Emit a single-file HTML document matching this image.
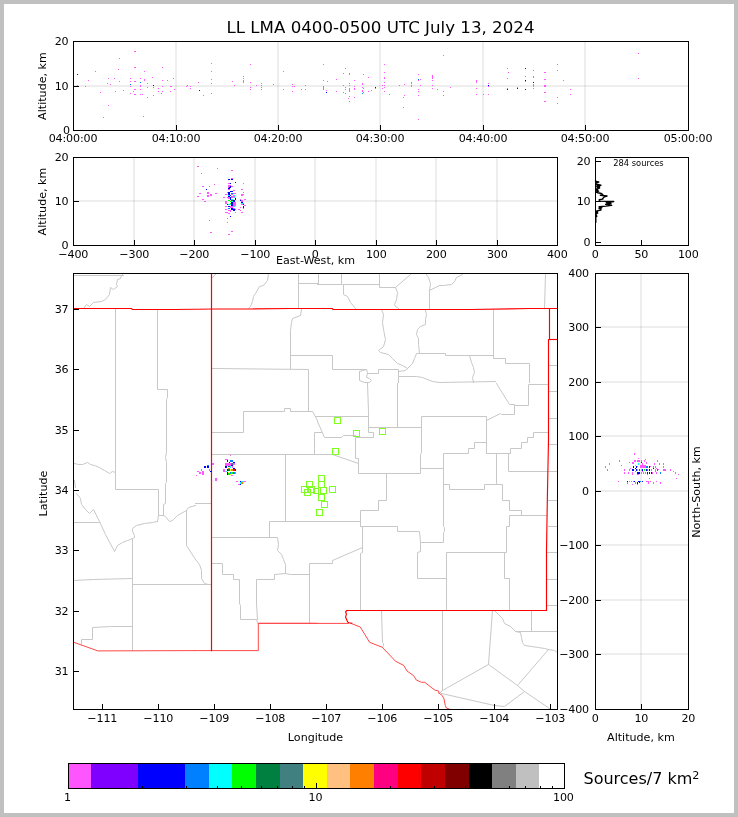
<!DOCTYPE html>
<html lang="en">
<head>
<meta charset="utf-8">
<title>LL LMA 0400-0500 UTC July 13, 2024</title>
<style>
html,body{margin:0;padding:0;background:#c0c0c0;}
svg{display:block;font-family:'DejaVu Sans','Liberation Sans',sans-serif;fill:#000;}
svg rect{shape-rendering:crispEdges;}
</style>
</head>
<body>
<svg width="738" height="817" viewBox="0 0 738 817">
<rect x="0" y="0" width="738" height="817" fill="#c0c0c0"/>
<rect x="4" y="4" width="730" height="809" fill="#fff"/>
<rect x="175" y="42" width="2" height="88" fill="#000" fill-opacity="0.065"/>
<rect x="277" y="42" width="2" height="88" fill="#000" fill-opacity="0.065"/>
<rect x="379" y="42" width="2" height="88" fill="#000" fill-opacity="0.065"/>
<rect x="482" y="42" width="2" height="88" fill="#000" fill-opacity="0.065"/>
<rect x="584" y="42" width="2" height="88" fill="#000" fill-opacity="0.065"/>
<rect x="74" y="85" width="614" height="2" fill="#000" fill-opacity="0.065"/>
<rect x="77" y="85" width="1" height="1" fill="#ff55ff"/>
<rect x="85" y="86" width="1" height="1" fill="#ff55ff"/>
<rect x="88" y="80" width="1" height="1" fill="#ff55ff"/>
<rect x="95" y="71" width="1" height="1" fill="#ff55ff"/>
<rect x="100" y="92" width="1" height="1" fill="#ff55ff"/>
<rect x="103" y="117" width="1" height="1" fill="#ff55ff"/>
<rect x="107" y="83" width="1" height="1" fill="#ff55ff"/>
<rect x="108" y="78" width="1" height="1" fill="#ff55ff"/>
<rect x="108" y="105" width="1" height="1" fill="#ff55ff"/>
<rect x="110" y="84" width="1" height="1" fill="#ff55ff"/>
<rect x="114" y="78" width="1" height="1" fill="#ff55ff"/>
<rect x="115" y="91" width="1" height="1" fill="#ff55ff"/>
<rect x="118" y="69" width="1" height="1" fill="#ff55ff"/>
<rect x="119" y="58" width="1" height="1" fill="#ff55ff"/>
<rect x="119" y="81" width="1" height="1" fill="#ff55ff"/>
<rect x="123" y="90" width="1" height="1" fill="#ff55ff"/>
<rect x="130" y="78" width="1" height="1" fill="#ff55ff"/>
<rect x="130" y="81" width="1" height="1" fill="#ff55ff"/>
<rect x="130" y="86" width="1" height="1" fill="#ff55ff"/>
<rect x="130" y="93" width="1" height="1" fill="#ff55ff"/>
<rect x="133" y="91" width="1" height="1" fill="#ff55ff"/>
<rect x="134" y="51" width="2" height="1" fill="#ff55ff"/>
<rect x="134" y="67" width="2" height="1" fill="#ff55ff"/>
<rect x="134" y="81" width="2" height="1" fill="#ff55ff"/>
<rect x="134" y="89" width="2" height="1" fill="#ff55ff"/>
<rect x="134" y="94" width="2" height="1" fill="#ff55ff"/>
<rect x="140" y="78" width="1" height="1" fill="#ff55ff"/>
<rect x="140" y="85" width="1" height="1" fill="#ff55ff"/>
<rect x="140" y="86" width="1" height="1" fill="#ff55ff"/>
<rect x="140" y="89" width="1" height="1" fill="#ff55ff"/>
<rect x="140" y="94" width="1" height="1" fill="#ff55ff"/>
<rect x="142" y="94" width="1" height="1" fill="#ff55ff"/>
<rect x="143" y="116" width="1" height="1" fill="#ff55ff"/>
<rect x="144" y="71" width="1" height="1" fill="#ff55ff"/>
<rect x="144" y="79" width="1" height="1" fill="#ff55ff"/>
<rect x="144" y="80" width="1" height="1" fill="#ff55ff"/>
<rect x="147" y="83" width="1" height="1" fill="#ff55ff"/>
<rect x="147" y="87" width="1" height="1" fill="#ff55ff"/>
<rect x="147" y="97" width="1" height="1" fill="#ff55ff"/>
<rect x="152" y="77" width="1" height="1" fill="#ff55ff"/>
<rect x="153" y="87" width="1" height="1" fill="#ff55ff"/>
<rect x="153" y="95" width="1" height="1" fill="#ff55ff"/>
<rect x="158" y="88" width="1" height="1" fill="#ff55ff"/>
<rect x="158" y="91" width="1" height="1" fill="#ff55ff"/>
<rect x="161" y="93" width="1" height="1" fill="#ff55ff"/>
<rect x="162" y="67" width="1" height="1" fill="#ff55ff"/>
<rect x="162" y="80" width="1" height="1" fill="#ff55ff"/>
<rect x="162" y="86" width="1" height="1" fill="#ff55ff"/>
<rect x="162" y="91" width="1" height="1" fill="#ff55ff"/>
<rect x="167" y="80" width="1" height="1" fill="#ff55ff"/>
<rect x="170" y="86" width="2" height="1" fill="#ff55ff"/>
<rect x="170" y="91" width="1" height="1" fill="#ff55ff"/>
<rect x="77" y="74" width="1" height="1" fill="#0000ff"/>
<rect x="153" y="85" width="1" height="1" fill="#0000ff"/>
<rect x="130" y="84" width="1" height="1" fill="#0080ff"/>
<rect x="140" y="82" width="1" height="1" fill="#0080ff"/>
<rect x="173" y="78" width="1" height="1" fill="#ff55ff"/>
<rect x="174" y="89" width="1" height="1" fill="#ff55ff"/>
<rect x="186" y="86" width="1" height="1" fill="#ff55ff"/>
<rect x="187" y="85" width="1" height="1" fill="#ff55ff"/>
<rect x="190" y="86" width="1" height="1" fill="#ff55ff"/>
<rect x="190" y="88" width="1" height="1" fill="#ff55ff"/>
<rect x="198" y="82" width="1" height="1" fill="#ff55ff"/>
<rect x="203" y="95" width="1" height="1" fill="#ff55ff"/>
<rect x="211" y="63" width="1" height="1" fill="#ff55ff"/>
<rect x="211" y="71" width="1" height="1" fill="#ff55ff"/>
<rect x="211" y="79" width="1" height="1" fill="#ff55ff"/>
<rect x="211" y="83" width="1" height="1" fill="#ff55ff"/>
<rect x="211" y="93" width="1" height="1" fill="#ff55ff"/>
<rect x="232" y="81" width="1" height="1" fill="#ff55ff"/>
<rect x="234" y="85" width="1" height="1" fill="#ff55ff"/>
<rect x="243" y="76" width="1" height="1" fill="#ff55ff"/>
<rect x="243" y="78" width="1" height="1" fill="#ff55ff"/>
<rect x="243" y="80" width="1" height="1" fill="#ff55ff"/>
<rect x="243" y="81" width="1" height="1" fill="#ff55ff"/>
<rect x="243" y="82" width="1" height="1" fill="#ff55ff"/>
<rect x="250" y="64" width="1" height="1" fill="#ff55ff"/>
<rect x="250" y="82" width="1" height="1" fill="#ff55ff"/>
<rect x="250" y="87" width="1" height="1" fill="#ff55ff"/>
<rect x="250" y="89" width="1" height="1" fill="#ff55ff"/>
<rect x="256" y="85" width="1" height="1" fill="#ff55ff"/>
<rect x="261" y="83" width="1" height="1" fill="#ff55ff"/>
<rect x="261" y="85" width="1" height="1" fill="#ff55ff"/>
<rect x="261" y="87" width="1" height="1" fill="#ff55ff"/>
<rect x="261" y="89" width="1" height="1" fill="#ff55ff"/>
<rect x="199" y="90" width="1" height="1" fill="#0000ff"/>
<rect x="273" y="84" width="1" height="1" fill="#ff55ff"/>
<rect x="283" y="71" width="1" height="1" fill="#ff55ff"/>
<rect x="283" y="89" width="1" height="1" fill="#ff55ff"/>
<rect x="292" y="84" width="1" height="1" fill="#ff55ff"/>
<rect x="292" y="86" width="1" height="1" fill="#ff55ff"/>
<rect x="294" y="86" width="1" height="1" fill="#ff55ff"/>
<rect x="292" y="91" width="1" height="1" fill="#ff55ff"/>
<rect x="301" y="89" width="1" height="1" fill="#ff55ff"/>
<rect x="305" y="85" width="1" height="1" fill="#ff55ff"/>
<rect x="305" y="89" width="1" height="1" fill="#ff55ff"/>
<rect x="323" y="64" width="1" height="1" fill="#ff55ff"/>
<rect x="323" y="80" width="1" height="1" fill="#ff55ff"/>
<rect x="327" y="81" width="1" height="1" fill="#ff55ff"/>
<rect x="323" y="86" width="1" height="4" fill="#ff55ff"/>
<rect x="326" y="90" width="1" height="1" fill="#ff55ff"/>
<rect x="336" y="79" width="1" height="1" fill="#ff55ff"/>
<rect x="336" y="91" width="1" height="1" fill="#ff55ff"/>
<rect x="343" y="73" width="1" height="1" fill="#ff55ff"/>
<rect x="343" y="85" width="1" height="1" fill="#ff55ff"/>
<rect x="343" y="92" width="1" height="1" fill="#ff55ff"/>
<rect x="345" y="68" width="1" height="1" fill="#ff55ff"/>
<rect x="345" y="87" width="1" height="1" fill="#ff55ff"/>
<rect x="345" y="89" width="1" height="1" fill="#ff55ff"/>
<rect x="345" y="93" width="1" height="1" fill="#ff55ff"/>
<rect x="349" y="73" width="1" height="2" fill="#ff55ff"/>
<rect x="349" y="83" width="1" height="1" fill="#ff55ff"/>
<rect x="349" y="85" width="1" height="1" fill="#ff55ff"/>
<rect x="349" y="88" width="1" height="4" fill="#ff55ff"/>
<rect x="349" y="96" width="1" height="1" fill="#ff55ff"/>
<rect x="348" y="98" width="1" height="1" fill="#ff55ff"/>
<rect x="349" y="101" width="1" height="1" fill="#ff55ff"/>
<rect x="354" y="80" width="1" height="1" fill="#ff55ff"/>
<rect x="354" y="86" width="1" height="1" fill="#ff55ff"/>
<rect x="354" y="88" width="1" height="2" fill="#ff55ff"/>
<rect x="354" y="97" width="1" height="1" fill="#ff55ff"/>
<rect x="362" y="83" width="1" height="2" fill="#ff55ff"/>
<rect x="362" y="87" width="1" height="1" fill="#ff55ff"/>
<rect x="363" y="88" width="1" height="1" fill="#ff55ff"/>
<rect x="362" y="90" width="1" height="2" fill="#ff55ff"/>
<rect x="363" y="92" width="1" height="1" fill="#ff55ff"/>
<rect x="363" y="74" width="1" height="1" fill="#ff55ff"/>
<rect x="368" y="77" width="1" height="1" fill="#ff55ff"/>
<rect x="368" y="91" width="1" height="1" fill="#ff55ff"/>
<rect x="371" y="90" width="1" height="1" fill="#ff55ff"/>
<rect x="326" y="92" width="1" height="1" fill="#0000ff"/>
<rect x="362" y="93" width="1" height="1" fill="#0080ff"/>
<rect x="375" y="88" width="1" height="1" fill="#ff55ff"/>
<rect x="382" y="85" width="1" height="1" fill="#ff55ff"/>
<rect x="382" y="88" width="1" height="1" fill="#ff55ff"/>
<rect x="384" y="64" width="1" height="1" fill="#ff55ff"/>
<rect x="384" y="72" width="1" height="1" fill="#ff55ff"/>
<rect x="384" y="77" width="1" height="2" fill="#ff55ff"/>
<rect x="384" y="82" width="1" height="1" fill="#ff55ff"/>
<rect x="384" y="85" width="1" height="1" fill="#ff55ff"/>
<rect x="384" y="87" width="1" height="1" fill="#ff55ff"/>
<rect x="384" y="91" width="1" height="1" fill="#ff55ff"/>
<rect x="389" y="94" width="1" height="1" fill="#ff55ff"/>
<rect x="399" y="85" width="1" height="1" fill="#ff55ff"/>
<rect x="404" y="84" width="1" height="1" fill="#ff55ff"/>
<rect x="404" y="95" width="1" height="1" fill="#ff55ff"/>
<rect x="403" y="97" width="1" height="1" fill="#ff55ff"/>
<rect x="403" y="107" width="1" height="1" fill="#ff55ff"/>
<rect x="411" y="82" width="1" height="2" fill="#ff55ff"/>
<rect x="411" y="85" width="1" height="2" fill="#ff55ff"/>
<rect x="418" y="74" width="1" height="1" fill="#ff55ff"/>
<rect x="418" y="80" width="1" height="1" fill="#ff55ff"/>
<rect x="420" y="79" width="1" height="1" fill="#ff55ff"/>
<rect x="420" y="85" width="1" height="1" fill="#ff55ff"/>
<rect x="418" y="89" width="1" height="1" fill="#ff55ff"/>
<rect x="418" y="91" width="1" height="1" fill="#ff55ff"/>
<rect x="418" y="95" width="1" height="1" fill="#ff55ff"/>
<rect x="418" y="119" width="1" height="1" fill="#ff55ff"/>
<rect x="432" y="75" width="1" height="4" fill="#ff55ff"/>
<rect x="432" y="80" width="1" height="1" fill="#ff55ff"/>
<rect x="432" y="85" width="1" height="1" fill="#ff55ff"/>
<rect x="432" y="88" width="1" height="1" fill="#ff55ff"/>
<rect x="437" y="89" width="1" height="1" fill="#ff55ff"/>
<rect x="443" y="55" width="1" height="1" fill="#ff55ff"/>
<rect x="443" y="91" width="1" height="1" fill="#ff55ff"/>
<rect x="443" y="95" width="1" height="1" fill="#ff55ff"/>
<rect x="450" y="87" width="1" height="1" fill="#ff55ff"/>
<rect x="375" y="87" width="1" height="1" fill="#0000ff"/>
<rect x="418" y="79" width="1" height="1" fill="#0080ff"/>
<rect x="476" y="80" width="1" height="3" fill="#ff55ff"/>
<rect x="476" y="88" width="1" height="1" fill="#ff55ff"/>
<rect x="476" y="94" width="1" height="1" fill="#ff55ff"/>
<rect x="483" y="94" width="1" height="1" fill="#ff55ff"/>
<rect x="488" y="83" width="1" height="1" fill="#ff55ff"/>
<rect x="488" y="86" width="1" height="1" fill="#ff55ff"/>
<rect x="488" y="94" width="1" height="1" fill="#ff55ff"/>
<rect x="507" y="68" width="1" height="1" fill="#ff55ff"/>
<rect x="508" y="72" width="1" height="1" fill="#ff55ff"/>
<rect x="507" y="78" width="1" height="1" fill="#ff55ff"/>
<rect x="507" y="88" width="1" height="1" fill="#ff55ff"/>
<rect x="517" y="87" width="1" height="1" fill="#ff55ff"/>
<rect x="525" y="76" width="1" height="1" fill="#ff55ff"/>
<rect x="525" y="81" width="1" height="1" fill="#ff55ff"/>
<rect x="533" y="70" width="1" height="1" fill="#ff55ff"/>
<rect x="533" y="76" width="1" height="2" fill="#ff55ff"/>
<rect x="533" y="84" width="1" height="3" fill="#ff55ff"/>
<rect x="533" y="88" width="1" height="1" fill="#ff55ff"/>
<rect x="544" y="72" width="2" height="1" fill="#ff55ff"/>
<rect x="544" y="79" width="2" height="1" fill="#ff55ff"/>
<rect x="544" y="85" width="2" height="2" fill="#ff55ff"/>
<rect x="544" y="92" width="2" height="1" fill="#ff55ff"/>
<rect x="544" y="101" width="2" height="1" fill="#ff55ff"/>
<rect x="557" y="64" width="1" height="1" fill="#ff55ff"/>
<rect x="557" y="70" width="1" height="1" fill="#ff55ff"/>
<rect x="557" y="97" width="1" height="1" fill="#ff55ff"/>
<rect x="557" y="103" width="1" height="1" fill="#ff55ff"/>
<rect x="563" y="80" width="1" height="1" fill="#ff55ff"/>
<rect x="570" y="89" width="1" height="1" fill="#ff55ff"/>
<rect x="570" y="94" width="1" height="1" fill="#ff55ff"/>
<rect x="488" y="85" width="1" height="1" fill="#0000ff"/>
<rect x="507" y="89" width="1" height="1" fill="#0000ff"/>
<rect x="517" y="88" width="1" height="1" fill="#0000ff"/>
<rect x="525" y="68" width="1" height="1" fill="#0000ff"/>
<rect x="525" y="80" width="1" height="1" fill="#0000ff"/>
<rect x="525" y="89" width="1" height="1" fill="#0000ff"/>
<rect x="533" y="82" width="1" height="1" fill="#0000ff"/>
<rect x="638" y="53" width="1" height="1" fill="#ff55ff"/>
<rect x="638" y="78" width="1" height="1" fill="#ff55ff"/>
<rect x="73" y="41" width="616" height="1" fill="#000"/>
<rect x="73" y="130" width="616" height="1" fill="#000"/>
<rect x="73" y="41" width="1" height="90" fill="#000"/>
<rect x="688" y="41" width="1" height="90" fill="#000"/>
<rect x="176" y="125" width="1" height="5" fill="#000"/>
<rect x="278" y="125" width="1" height="5" fill="#000"/>
<rect x="380" y="125" width="1" height="5" fill="#000"/>
<rect x="483" y="125" width="1" height="5" fill="#000"/>
<rect x="585" y="125" width="1" height="5" fill="#000"/>
<rect x="74" y="86" width="5" height="1" fill="#000"/>
<rect x="133" y="158" width="2" height="87" fill="#000" fill-opacity="0.065"/>
<rect x="193" y="158" width="2" height="87" fill="#000" fill-opacity="0.065"/>
<rect x="254" y="158" width="2" height="87" fill="#000" fill-opacity="0.065"/>
<rect x="314" y="158" width="2" height="87" fill="#000" fill-opacity="0.065"/>
<rect x="375" y="158" width="2" height="87" fill="#000" fill-opacity="0.065"/>
<rect x="435" y="158" width="2" height="87" fill="#000" fill-opacity="0.065"/>
<rect x="496" y="158" width="2" height="87" fill="#000" fill-opacity="0.065"/>
<rect x="74" y="200" width="483" height="2" fill="#000" fill-opacity="0.065"/>
<rect x="231" y="178" width="2" height="1" fill="#ff55ff"/>
<rect x="228" y="179" width="2" height="1" fill="#0000ff"/>
<rect x="231" y="179" width="2" height="1" fill="#0000ff"/>
<rect x="235" y="182" width="1" height="1" fill="#0000ff"/>
<rect x="228" y="183" width="2" height="1" fill="#ff55ff"/>
<rect x="230" y="183" width="1" height="1" fill="#0000ff"/>
<rect x="243" y="183" width="1" height="1" fill="#ff55ff"/>
<rect x="228" y="185" width="3" height="1" fill="#ff55ff"/>
<rect x="228" y="186" width="2" height="1" fill="#ff55ff"/>
<rect x="230" y="186" width="1" height="1" fill="#0000ff"/>
<rect x="231" y="186" width="2" height="1" fill="#ff55ff"/>
<rect x="228" y="187" width="1" height="1" fill="#ff55ff"/>
<rect x="229" y="187" width="2" height="1" fill="#0000ff"/>
<rect x="228" y="188" width="2" height="1" fill="#0000ff"/>
<rect x="228" y="189" width="2" height="1" fill="#ff55ff"/>
<rect x="241" y="189" width="2" height="1" fill="#ff55ff"/>
<rect x="233" y="190" width="2" height="1" fill="#ff55ff"/>
<rect x="230" y="191" width="3" height="1" fill="#0000ff"/>
<rect x="227" y="192" width="1" height="1" fill="#ff55ff"/>
<rect x="228" y="192" width="2" height="1" fill="#0000ff"/>
<rect x="243" y="192" width="1" height="1" fill="#ff55ff"/>
<rect x="228" y="193" width="2" height="1" fill="#0000ff"/>
<rect x="231" y="193" width="2" height="1" fill="#0080ff"/>
<rect x="233" y="193" width="3" height="1" fill="#ff55ff"/>
<rect x="225" y="194" width="2" height="1" fill="#ff55ff"/>
<rect x="228" y="194" width="2" height="1" fill="#0000ff"/>
<rect x="231" y="194" width="2" height="1" fill="#ff55ff"/>
<rect x="241" y="194" width="3" height="1" fill="#ff55ff"/>
<rect x="228" y="195" width="2" height="1" fill="#00ffff"/>
<rect x="230" y="195" width="1" height="1" fill="#0000ff"/>
<rect x="233" y="195" width="2" height="1" fill="#00ffff"/>
<rect x="241" y="195" width="2" height="1" fill="#ff55ff"/>
<rect x="228" y="196" width="2" height="1" fill="#0000ff"/>
<rect x="231" y="196" width="4" height="1" fill="#ff55ff"/>
<rect x="223" y="197" width="2" height="1" fill="#ff55ff"/>
<rect x="227" y="197" width="3" height="1" fill="#ff55ff"/>
<rect x="230" y="197" width="1" height="1" fill="#0000ff"/>
<rect x="231" y="197" width="2" height="1" fill="#ff55ff"/>
<rect x="233" y="197" width="2" height="1" fill="#00ffff"/>
<rect x="228" y="198" width="2" height="1" fill="#ff55ff"/>
<rect x="230" y="198" width="1" height="1" fill="#0000ff"/>
<rect x="235" y="198" width="1" height="1" fill="#0000ff"/>
<rect x="230" y="199" width="1" height="1" fill="#0000ff"/>
<rect x="231" y="199" width="2" height="1" fill="#00ffff"/>
<rect x="235" y="199" width="1" height="1" fill="#0000ff"/>
<rect x="240" y="199" width="1" height="1" fill="#ff55ff"/>
<rect x="244" y="199" width="2" height="1" fill="#ff55ff"/>
<rect x="228" y="200" width="2" height="1" fill="#00ff00"/>
<rect x="231" y="200" width="2" height="1" fill="#008040"/>
<rect x="233" y="200" width="2" height="1" fill="#0000ff"/>
<rect x="240" y="200" width="1" height="1" fill="#0000ff"/>
<rect x="241" y="200" width="2" height="1" fill="#ff55ff"/>
<rect x="225" y="201" width="2" height="1" fill="#ff55ff"/>
<rect x="230" y="201" width="1" height="1" fill="#00ff00"/>
<rect x="231" y="201" width="2" height="1" fill="#00ffff"/>
<rect x="233" y="201" width="2" height="1" fill="#0000ff"/>
<rect x="241" y="201" width="2" height="1" fill="#ff55ff"/>
<rect x="225" y="202" width="2" height="1" fill="#ff55ff"/>
<rect x="231" y="202" width="2" height="1" fill="#0000ff"/>
<rect x="233" y="202" width="3" height="1" fill="#ff55ff"/>
<rect x="241" y="202" width="2" height="1" fill="#0000ff"/>
<rect x="225" y="203" width="2" height="1" fill="#ff55ff"/>
<rect x="230" y="203" width="1" height="1" fill="#00ff00"/>
<rect x="231" y="203" width="2" height="1" fill="#0000ff"/>
<rect x="233" y="203" width="3" height="1" fill="#ff55ff"/>
<rect x="241" y="203" width="2" height="1" fill="#00ffff"/>
<rect x="243" y="203" width="1" height="1" fill="#ff55ff"/>
<rect x="227" y="204" width="1" height="1" fill="#0000ff"/>
<rect x="228" y="204" width="3" height="1" fill="#00ffff"/>
<rect x="231" y="204" width="2" height="1" fill="#0000ff"/>
<rect x="233" y="204" width="3" height="1" fill="#ff55ff"/>
<rect x="241" y="204" width="2" height="1" fill="#ff55ff"/>
<rect x="243" y="204" width="1" height="1" fill="#0000ff"/>
<rect x="231" y="205" width="2" height="1" fill="#0000ff"/>
<rect x="233" y="205" width="3" height="1" fill="#ff55ff"/>
<rect x="244" y="205" width="2" height="1" fill="#ff55ff"/>
<rect x="225" y="206" width="2" height="1" fill="#ff55ff"/>
<rect x="228" y="206" width="2" height="1" fill="#0000ff"/>
<rect x="230" y="206" width="3" height="1" fill="#ff55ff"/>
<rect x="233" y="206" width="2" height="1" fill="#00ffff"/>
<rect x="243" y="206" width="1" height="1" fill="#0000ff"/>
<rect x="230" y="207" width="3" height="1" fill="#ff55ff"/>
<rect x="240" y="207" width="1" height="1" fill="#ff55ff"/>
<rect x="243" y="207" width="1" height="1" fill="#0000ff"/>
<rect x="228" y="208" width="2" height="1" fill="#0080ff"/>
<rect x="231" y="208" width="2" height="1" fill="#0000ff"/>
<rect x="233" y="208" width="2" height="1" fill="#ff55ff"/>
<rect x="243" y="208" width="1" height="1" fill="#ff55ff"/>
<rect x="225" y="209" width="2" height="1" fill="#ff55ff"/>
<rect x="231" y="209" width="4" height="1" fill="#0000ff"/>
<rect x="235" y="209" width="1" height="1" fill="#ff55ff"/>
<rect x="238" y="209" width="2" height="1" fill="#ff55ff"/>
<rect x="228" y="210" width="3" height="1" fill="#ff55ff"/>
<rect x="233" y="210" width="2" height="1" fill="#0000ff"/>
<rect x="240" y="210" width="1" height="1" fill="#ff55ff"/>
<rect x="230" y="211" width="1" height="1" fill="#ff55ff"/>
<rect x="225" y="212" width="3" height="1" fill="#ff55ff"/>
<rect x="235" y="212" width="1" height="1" fill="#ff55ff"/>
<rect x="241" y="212" width="2" height="1" fill="#ff55ff"/>
<rect x="228" y="213" width="2" height="1" fill="#ff55ff"/>
<rect x="230" y="216" width="1" height="1" fill="#0000ff"/>
<rect x="227" y="218" width="1" height="1" fill="#ff55ff"/>
<rect x="197" y="166" width="2" height="1" fill="#ff55ff"/>
<rect x="201" y="173" width="1" height="1" fill="#ff55ff"/>
<rect x="217" y="168" width="1" height="1" fill="#ff55ff"/>
<rect x="231" y="170" width="2" height="1" fill="#ff55ff"/>
<rect x="214" y="184" width="1" height="1" fill="#ff55ff"/>
<rect x="209" y="220" width="1" height="1" fill="#ff55ff"/>
<rect x="227" y="222" width="1" height="1" fill="#ff55ff"/>
<rect x="231" y="231" width="2" height="1" fill="#ff55ff"/>
<rect x="210" y="232" width="2" height="1" fill="#ff55ff"/>
<rect x="228" y="234" width="2" height="1" fill="#ff55ff"/>
<rect x="202" y="186" width="2" height="1" fill="#ff55ff"/>
<rect x="209" y="186" width="1" height="1" fill="#ff55ff"/>
<rect x="206" y="189" width="1" height="1" fill="#0000ff"/>
<rect x="199" y="193" width="2" height="1" fill="#ff55ff"/>
<rect x="207" y="192" width="2" height="2" fill="#ff55ff"/>
<rect x="207" y="195" width="2" height="2" fill="#ff55ff"/>
<rect x="210" y="194" width="2" height="2" fill="#ff55ff"/>
<rect x="215" y="193" width="2" height="1" fill="#ff55ff"/>
<rect x="197" y="196" width="2" height="1" fill="#ff55ff"/>
<rect x="202" y="199" width="2" height="1" fill="#ff55ff"/>
<rect x="204" y="201" width="2" height="1" fill="#ff55ff"/>
<rect x="73" y="157" width="485" height="1" fill="#000"/>
<rect x="73" y="245" width="485" height="1" fill="#000"/>
<rect x="73" y="157" width="1" height="89" fill="#000"/>
<rect x="557" y="157" width="1" height="89" fill="#000"/>
<rect x="134" y="240" width="1" height="5" fill="#000"/>
<rect x="194" y="240" width="1" height="5" fill="#000"/>
<rect x="255" y="240" width="1" height="5" fill="#000"/>
<rect x="315" y="240" width="1" height="5" fill="#000"/>
<rect x="376" y="240" width="1" height="5" fill="#000"/>
<rect x="436" y="240" width="1" height="5" fill="#000"/>
<rect x="497" y="240" width="1" height="5" fill="#000"/>
<rect x="74" y="201" width="5" height="1" fill="#000"/>
<polyline points="595.58,180.11 595.58,181.35 598.75,182.05 595.76,182.93 595.76,183.99 600.87,185.22 596.11,186.1 599.63,186.8 597.17,187.44 599.63,188.14 596.11,188.92 597.87,189.8 596.11,190.5 598.58,191.2 596.11,192.08 597.87,192.79 601.39,193.49 602.8,194.55 600.34,195.25 607.03,195.96 604.21,196.84 602.63,198.77 602.8,199.13 599.28,199.76 599.28,201.17 613.72,201.45 606.32,202.58 610.9,203.28 605.62,204.34 611.61,205.29 605.97,206.1 599.11,206.73 601.75,207.68 598.93,208.21 601.04,208.74 600.87,209.97 596.11,211.1 597.52,211.91 595.94,212.44 597.7,213.14 595.76,213.85 596.82,216.31 595.76,216.84 595.83,222.65" fill="none" stroke="#000" stroke-width="1.4" stroke-linejoin="round"/>
<rect x="595" y="157" width="94" height="1" fill="#000"/>
<rect x="595" y="245" width="94" height="1" fill="#000"/>
<rect x="595" y="157" width="1" height="89" fill="#000"/>
<rect x="688" y="157" width="1" height="89" fill="#000"/>
<rect x="596" y="242" width="5" height="1" fill="#000"/>
<rect x="596" y="201" width="5" height="1" fill="#000"/>
<rect x="596" y="161" width="5" height="1" fill="#000"/>
<rect x="641" y="240" width="1" height="5" fill="#000"/>
<clipPath id="c4"><rect x="74" y="274" width="483" height="435"/></clipPath>
<g clip-path="url(#c4)">
<polyline points="73.5,275.5 123.5,275.5" fill="none" stroke="#c8c8c8" stroke-width="1" stroke-linejoin="round" stroke-linecap="square"/>
<polyline points="123.5,273.5 121.5,275.5 120.5,278.5 117.5,279.5 116.5,284.5 117.5,286.5 113.5,289.5 110.5,287.5 109.5,294.5 105.5,299.5 101.5,301.5 93.5,302.5 89.5,306.5 86.5,304.5 83.5,308.5" fill="none" stroke="#c8c8c8" stroke-width="1" stroke-linejoin="round" stroke-linecap="square"/>
<polyline points="115.5,309.5 115.5,382.5" fill="none" stroke="#c8c8c8" stroke-width="1" stroke-linejoin="round" stroke-linecap="square"/>
<polyline points="157.5,309.5 157.5,382.5" fill="none" stroke="#c8c8c8" stroke-width="1" stroke-linejoin="round" stroke-linecap="square"/>
<polyline points="216.5,273.5 212.5,277.5" fill="none" stroke="#c8c8c8" stroke-width="1" stroke-linejoin="round" stroke-linecap="square"/>
<polyline points="268.5,273.5 267.5,280.5 263.5,285.5 259.5,286.5 255.5,293.5 253.5,296.5 252.5,301.5 250.5,306.5 248.5,308.5" fill="none" stroke="#c8c8c8" stroke-width="1" stroke-linejoin="round" stroke-linecap="square"/>
<polyline points="298.5,273.5 298.5,308.5" fill="none" stroke="#c8c8c8" stroke-width="1" stroke-linejoin="round" stroke-linecap="square"/>
<polyline points="298.5,283.5 317.5,283.5" fill="none" stroke="#c8c8c8" stroke-width="1" stroke-linejoin="round" stroke-linecap="square"/>
<polyline points="301.5,309.5 300.5,315.5 292.5,318.5 291.5,322.5 290.5,330.5 290.5,368.5" fill="none" stroke="#c8c8c8" stroke-width="1" stroke-linejoin="round" stroke-linecap="square"/>
<polyline points="290.5,355.5 317.5,355.5" fill="none" stroke="#c8c8c8" stroke-width="1" stroke-linejoin="round" stroke-linecap="square"/>
<polyline points="212.5,368.5 308.5,369.5 308.5,382.5" fill="none" stroke="#c8c8c8" stroke-width="1" stroke-linejoin="round" stroke-linecap="square"/>
<polyline points="318.5,273.5 318.5,284.5" fill="none" stroke="#c8c8c8" stroke-width="1" stroke-linejoin="round" stroke-linecap="square"/>
<polyline points="317.5,284.5 342.5,284.5 378.5,284.5" fill="none" stroke="#c8c8c8" stroke-width="1" stroke-linejoin="round" stroke-linecap="square"/>
<polyline points="341.5,273.5 341.5,284.5" fill="none" stroke="#c8c8c8" stroke-width="1" stroke-linejoin="round" stroke-linecap="square"/>
<polyline points="379.5,273.5 379.5,287.5 395.5,287.5" fill="none" stroke="#c8c8c8" stroke-width="1" stroke-linejoin="round" stroke-linecap="square"/>
<polyline points="410.5,274.5 395.5,287.5" fill="none" stroke="#c8c8c8" stroke-width="1" stroke-linejoin="round" stroke-linecap="square"/>
<polyline points="343.5,284.5 343.5,294.5 347.5,296.5 350.5,302.5 355.5,308.5" fill="none" stroke="#c8c8c8" stroke-width="1" stroke-linejoin="round" stroke-linecap="square"/>
<polyline points="395.5,287.5 397.5,292.5 396.5,299.5 394.5,304.5 395.5,306.5 398.5,308.5" fill="none" stroke="#c8c8c8" stroke-width="1" stroke-linejoin="round" stroke-linecap="square"/>
<polyline points="426.5,274.5 428.5,277.5 430.5,283.5 429.5,290.5 429.5,308.5" fill="none" stroke="#c8c8c8" stroke-width="1" stroke-linejoin="round" stroke-linecap="square"/>
<polyline points="429.5,290.5 439.5,285.5" fill="none" stroke="#c8c8c8" stroke-width="1" stroke-linejoin="round" stroke-linecap="square"/>
<polyline points="381.5,309.5 383.5,314.5 382.5,322.5 383.5,329.5 385.5,339.5 383.5,346.5 378.5,350.5 380.5,352.5 388.5,354.5 392.5,358.5 397.5,363.5 402.5,365.5 407.5,368.5 405.5,370.5 398.5,371.5" fill="none" stroke="#c8c8c8" stroke-width="1" stroke-linejoin="round" stroke-linecap="square"/>
<polyline points="425.5,310.5 426.5,314.5 425.5,319.5 425.5,324.5 420.5,326.5 417.5,329.5 416.5,334.5 418.5,338.5 418.5,344.5 419.5,353.5" fill="none" stroke="#c8c8c8" stroke-width="1" stroke-linejoin="round" stroke-linecap="square"/>
<polyline points="439.5,353.5 416.5,353.5 414.5,358.5 412.5,363.5 407.5,368.5" fill="none" stroke="#c8c8c8" stroke-width="1" stroke-linejoin="round" stroke-linecap="square"/>
<polyline points="317.5,355.5 332.5,355.5 332.5,369.5 366.5,369.5" fill="none" stroke="#c8c8c8" stroke-width="1" stroke-linejoin="round" stroke-linecap="square"/>
<polyline points="359.5,371.5 366.5,369.5 367.5,372.5 366.5,377.5 369.5,378.5 371.5,380.5 369.5,382.5" fill="none" stroke="#c8c8c8" stroke-width="1" stroke-linejoin="round" stroke-linecap="square"/>
<polyline points="359.5,371.5 359.5,380.5 364.5,382.5 368.5,382.5" fill="none" stroke="#c8c8c8" stroke-width="1" stroke-linejoin="round" stroke-linecap="square"/>
<polyline points="367.5,373.5 378.5,373.5 378.5,369.5 398.5,369.5 398.5,382.5" fill="none" stroke="#c8c8c8" stroke-width="1" stroke-linejoin="round" stroke-linecap="square"/>
<polyline points="398.5,376.5 416.5,376.5 422.5,377.5 432.5,381.5 439.5,382.5" fill="none" stroke="#c8c8c8" stroke-width="1" stroke-linejoin="round" stroke-linecap="square"/>
<polyline points="462.5,274.5 456.5,277.5 454.5,281.5 451.5,284.5 443.5,285.5 439.5,285.5" fill="none" stroke="#c8c8c8" stroke-width="1" stroke-linejoin="round" stroke-linecap="square"/>
<polyline points="545.5,274.5 544.5,308.5" fill="none" stroke="#c8c8c8" stroke-width="1" stroke-linejoin="round" stroke-linecap="square"/>
<polyline points="493.5,309.5 493.5,358.5 505.5,358.5 505.5,363.5 529.5,363.5 529.5,382.5" fill="none" stroke="#c8c8c8" stroke-width="1" stroke-linejoin="round" stroke-linecap="square"/>
<polyline points="439.5,353.5 445.5,353.5 445.5,355.5 493.5,355.5" fill="none" stroke="#c8c8c8" stroke-width="1" stroke-linejoin="round" stroke-linecap="square"/>
<polyline points="469.5,355.5 471.5,362.5 473.5,367.5 474.5,372.5 472.5,377.5 473.5,382.5" fill="none" stroke="#c8c8c8" stroke-width="1" stroke-linejoin="round" stroke-linecap="square"/>
<polyline points="549.5,365.5 557.5,365.5" fill="none" stroke="#c8c8c8" stroke-width="1" stroke-linejoin="round" stroke-linecap="square"/>
<polyline points="439.5,382.5 495.5,381.5" fill="none" stroke="#c8c8c8" stroke-width="1" stroke-linejoin="round" stroke-linecap="square"/>
<polyline points="115.5,383.5 115.5,489.5 158.5,489.5 158.5,492.5" fill="none" stroke="#c8c8c8" stroke-width="1" stroke-linejoin="round" stroke-linecap="square"/>
<polyline points="157.5,383.5 157.5,389.5 167.5,389.5 167.5,397.5 166.5,399.5 166.5,452.5 165.5,457.5 166.5,462.5 166.5,482.5 165.5,483.5 165.5,492.5" fill="none" stroke="#c8c8c8" stroke-width="1" stroke-linejoin="round" stroke-linecap="square"/>
<polyline points="74.5,463.5 78.5,464.5 82.5,464.5 87.5,462.5 90.5,464.5 94.5,465.5 99.5,467.5 104.5,470.5 109.5,473.5 112.5,471.5 115.5,472.5" fill="none" stroke="#c8c8c8" stroke-width="1" stroke-linejoin="round" stroke-linecap="square"/>
<polyline points="74.5,480.5 75.5,487.5" fill="none" stroke="#c8c8c8" stroke-width="1" stroke-linejoin="round" stroke-linecap="square"/>
<polyline points="308.5,383.5 308.5,411.5" fill="none" stroke="#c8c8c8" stroke-width="1" stroke-linejoin="round" stroke-linecap="square"/>
<polyline points="211.5,432.5 243.5,432.5 243.5,411.5 284.5,411.5 284.5,408.5 290.5,408.5 290.5,411.5 312.5,411.5 317.5,420.5" fill="none" stroke="#c8c8c8" stroke-width="1" stroke-linejoin="round" stroke-linecap="square"/>
<polyline points="211.5,454.5 314.5,454.5 314.5,432.5 317.5,432.5" fill="none" stroke="#c8c8c8" stroke-width="1" stroke-linejoin="round" stroke-linecap="square"/>
<polyline points="314.5,454.5 317.5,454.5" fill="none" stroke="#c8c8c8" stroke-width="1" stroke-linejoin="round" stroke-linecap="square"/>
<polyline points="285.5,455.5 285.5,492.5" fill="none" stroke="#c8c8c8" stroke-width="1" stroke-linejoin="round" stroke-linecap="square"/>
<polyline points="367.5,383.5 368.5,411.5 368.5,432.5 373.5,432.5 373.5,437.5 355.5,437.5 355.5,458.5 358.5,458.5 358.5,473.5 420.5,473.5 420.5,454.5 421.5,452.5 421.5,416.5 439.5,416.5" fill="none" stroke="#c8c8c8" stroke-width="1" stroke-linejoin="round" stroke-linecap="square"/>
<polyline points="397.5,383.5 397.5,427.5" fill="none" stroke="#c8c8c8" stroke-width="1" stroke-linejoin="round" stroke-linecap="square"/>
<polyline points="368.5,427.5 421.5,427.5" fill="none" stroke="#c8c8c8" stroke-width="1" stroke-linejoin="round" stroke-linecap="square"/>
<polyline points="315.5,416.5 367.5,416.5" fill="none" stroke="#c8c8c8" stroke-width="1" stroke-linejoin="round" stroke-linecap="square"/>
<polyline points="317.5,421.5 324.5,437.5 341.5,437.5 343.5,435.5 355.5,435.5" fill="none" stroke="#c8c8c8" stroke-width="1" stroke-linejoin="round" stroke-linecap="square"/>
<polyline points="317.5,432.5 321.5,432.5" fill="none" stroke="#c8c8c8" stroke-width="1" stroke-linejoin="round" stroke-linecap="square"/>
<polyline points="317.5,454.5 332.5,454.5 358.5,463.5" fill="none" stroke="#c8c8c8" stroke-width="1" stroke-linejoin="round" stroke-linecap="square"/>
<polyline points="386.5,474.5 386.5,492.5" fill="none" stroke="#c8c8c8" stroke-width="1" stroke-linejoin="round" stroke-linecap="square"/>
<polyline points="420.5,468.5 439.5,468.5" fill="none" stroke="#c8c8c8" stroke-width="1" stroke-linejoin="round" stroke-linecap="square"/>
<polyline points="496.5,383.5 509.5,404.5 514.5,404.5 514.5,414.5 501.5,414.5 500.5,413.5 486.5,420.5" fill="none" stroke="#c8c8c8" stroke-width="1" stroke-linejoin="round" stroke-linecap="square"/>
<polyline points="514.5,405.5 528.5,405.5 528.5,384.5 548.5,384.5" fill="none" stroke="#c8c8c8" stroke-width="1" stroke-linejoin="round" stroke-linecap="square"/>
<polyline points="439.5,416.5 486.5,416.5 486.5,453.5" fill="none" stroke="#c8c8c8" stroke-width="1" stroke-linejoin="round" stroke-linecap="square"/>
<polyline points="486.5,442.5 474.5,442.5 474.5,448.5 468.5,448.5 468.5,453.5 443.5,453.5 443.5,484.5 449.5,484.5 449.5,489.5 484.5,489.5 484.5,484.5 502.5,484.5 502.5,492.5" fill="none" stroke="#c8c8c8" stroke-width="1" stroke-linejoin="round" stroke-linecap="square"/>
<polyline points="439.5,468.5 443.5,468.5" fill="none" stroke="#c8c8c8" stroke-width="1" stroke-linejoin="round" stroke-linecap="square"/>
<polyline points="443.5,484.5 443.5,492.5" fill="none" stroke="#c8c8c8" stroke-width="1" stroke-linejoin="round" stroke-linecap="square"/>
<polyline points="486.5,453.5 510.5,453.5" fill="none" stroke="#c8c8c8" stroke-width="1" stroke-linejoin="round" stroke-linecap="square"/>
<polyline points="496.5,453.5 496.5,484.5" fill="none" stroke="#c8c8c8" stroke-width="1" stroke-linejoin="round" stroke-linecap="square"/>
<polyline points="510.5,453.5 510.5,448.5 521.5,448.5 521.5,442.5 527.5,442.5 527.5,437.5 533.5,437.5 533.5,432.5 548.5,432.5" fill="none" stroke="#c8c8c8" stroke-width="1" stroke-linejoin="round" stroke-linecap="square"/>
<polyline points="508.5,453.5 508.5,471.5 548.5,471.5" fill="none" stroke="#c8c8c8" stroke-width="1" stroke-linejoin="round" stroke-linecap="square"/>
<polyline points="548.5,391.5 557.5,391.5" fill="none" stroke="#c8c8c8" stroke-width="1" stroke-linejoin="round" stroke-linecap="square"/>
<polyline points="548.5,418.5 557.5,418.5" fill="none" stroke="#c8c8c8" stroke-width="1" stroke-linejoin="round" stroke-linecap="square"/>
<polyline points="548.5,444.5 557.5,444.5" fill="none" stroke="#c8c8c8" stroke-width="1" stroke-linejoin="round" stroke-linecap="square"/>
<polyline points="548.5,471.5 557.5,471.5" fill="none" stroke="#c8c8c8" stroke-width="1" stroke-linejoin="round" stroke-linecap="square"/>
<polyline points="76.5,493.5 80.5,498.5 81.5,504.5 85.5,509.5 89.5,513.5 93.5,509.5 99.5,521.5 105.5,534.5 114.5,551.5 117.5,545.5 122.5,542.5 127.5,540.5 132.5,538.5 134.5,537.5 134.5,535.5 132.5,531.5 132.5,528.5 136.5,525.5 144.5,523.5 152.5,522.5 157.5,521.5" fill="none" stroke="#c8c8c8" stroke-width="1" stroke-linejoin="round" stroke-linecap="square"/>
<polyline points="73.5,522.5 99.5,522.5" fill="none" stroke="#c8c8c8" stroke-width="1" stroke-linejoin="round" stroke-linecap="square"/>
<polyline points="158.5,493.5 158.5,515.5 157.5,521.5" fill="none" stroke="#c8c8c8" stroke-width="1" stroke-linejoin="round" stroke-linecap="square"/>
<polyline points="158.5,515.5 163.5,515.5 163.5,504.5 165.5,503.5 165.5,493.5" fill="none" stroke="#c8c8c8" stroke-width="1" stroke-linejoin="round" stroke-linecap="square"/>
<polyline points="163.5,515.5 165.5,516.5 169.5,521.5 172.5,520.5 177.5,515.5 186.5,510.5 188.5,507.5 195.5,505.5" fill="none" stroke="#c8c8c8" stroke-width="1" stroke-linejoin="round" stroke-linecap="square"/>
<polyline points="186.5,510.5 186.5,545.5 195.5,559.5" fill="none" stroke="#c8c8c8" stroke-width="1" stroke-linejoin="round" stroke-linecap="square"/>
<polyline points="132.5,538.5 132.5,602.5" fill="none" stroke="#c8c8c8" stroke-width="1" stroke-linejoin="round" stroke-linecap="square"/>
<polyline points="73.5,580.5 93.5,579.5 132.5,578.5" fill="none" stroke="#c8c8c8" stroke-width="1" stroke-linejoin="round" stroke-linecap="square"/>
<polyline points="132.5,584.5 195.5,584.5" fill="none" stroke="#c8c8c8" stroke-width="1" stroke-linejoin="round" stroke-linecap="square"/>
<polyline points="195.5,503.5 211.5,503.5" fill="none" stroke="#c8c8c8" stroke-width="1" stroke-linejoin="round" stroke-linecap="square"/>
<polyline points="195.5,559.5 199.5,564.5 201.5,570.5 201.5,578.5 204.5,583.5 208.5,584.5 211.5,584.5" fill="none" stroke="#c8c8c8" stroke-width="1" stroke-linejoin="round" stroke-linecap="square"/>
<polyline points="195.5,584.5 211.5,584.5" fill="none" stroke="#c8c8c8" stroke-width="1" stroke-linejoin="round" stroke-linecap="square"/>
<polyline points="285.5,493.5 285.5,521.5" fill="none" stroke="#c8c8c8" stroke-width="1" stroke-linejoin="round" stroke-linecap="square"/>
<polyline points="317.5,521.5 269.5,521.5 269.5,537.5" fill="none" stroke="#c8c8c8" stroke-width="1" stroke-linejoin="round" stroke-linecap="square"/>
<polyline points="211.5,537.5 242.5,537.5 277.5,537.5 278.5,544.5 277.5,550.5 281.5,554.5 283.5,559.5 285.5,564.5 285.5,573.5 290.5,574.5 309.5,574.5" fill="none" stroke="#c8c8c8" stroke-width="1" stroke-linejoin="round" stroke-linecap="square"/>
<polyline points="317.5,563.5 309.5,563.5 309.5,602.5" fill="none" stroke="#c8c8c8" stroke-width="1" stroke-linejoin="round" stroke-linecap="square"/>
<polyline points="211.5,563.5 222.5,563.5 222.5,574.5 233.5,574.5 233.5,579.5 239.5,579.5 239.5,602.5" fill="none" stroke="#c8c8c8" stroke-width="1" stroke-linejoin="round" stroke-linecap="square"/>
<polyline points="256.5,602.5 256.5,579.5 274.5,579.5 274.5,574.5 285.5,573.5" fill="none" stroke="#c8c8c8" stroke-width="1" stroke-linejoin="round" stroke-linecap="square"/>
<polyline points="386.5,493.5 386.5,500.5 378.5,500.5 378.5,510.5 360.5,510.5 360.5,526.5" fill="none" stroke="#c8c8c8" stroke-width="1" stroke-linejoin="round" stroke-linecap="square"/>
<polyline points="317.5,521.5 360.5,521.5" fill="none" stroke="#c8c8c8" stroke-width="1" stroke-linejoin="round" stroke-linecap="square"/>
<polyline points="360.5,526.5 397.5,526.5 397.5,531.5 419.5,531.5 420.5,542.5 439.5,542.5" fill="none" stroke="#c8c8c8" stroke-width="1" stroke-linejoin="round" stroke-linecap="square"/>
<polyline points="420.5,542.5 420.5,551.5 417.5,552.5 417.5,578.5 439.5,578.5" fill="none" stroke="#c8c8c8" stroke-width="1" stroke-linejoin="round" stroke-linecap="square"/>
<polyline points="362.5,526.5 362.5,552.5 360.5,553.5 360.5,602.5" fill="none" stroke="#c8c8c8" stroke-width="1" stroke-linejoin="round" stroke-linecap="square"/>
<polyline points="362.5,547.5 332.5,560.5 332.5,563.5 317.5,563.5" fill="none" stroke="#c8c8c8" stroke-width="1" stroke-linejoin="round" stroke-linecap="square"/>
<polyline points="443.5,493.5 443.5,526.5 444.5,527.5 444.5,531.5 443.5,532.5 443.5,542.5 439.5,542.5" fill="none" stroke="#c8c8c8" stroke-width="1" stroke-linejoin="round" stroke-linecap="square"/>
<polyline points="502.5,493.5 502.5,500.5 509.5,500.5 509.5,510.5 521.5,510.5 521.5,515.5" fill="none" stroke="#c8c8c8" stroke-width="1" stroke-linejoin="round" stroke-linecap="square"/>
<polyline points="546.5,515.5 509.5,515.5 509.5,526.5 506.5,526.5 506.5,552.5 446.5,552.5 446.5,602.5" fill="none" stroke="#c8c8c8" stroke-width="1" stroke-linejoin="round" stroke-linecap="square"/>
<polyline points="439.5,578.5 446.5,578.5" fill="none" stroke="#c8c8c8" stroke-width="1" stroke-linejoin="round" stroke-linecap="square"/>
<polyline points="504.5,552.5 504.5,578.5 509.5,578.5 509.5,602.5" fill="none" stroke="#c8c8c8" stroke-width="1" stroke-linejoin="round" stroke-linecap="square"/>
<polyline points="548.5,500.5 557.5,500.5" fill="none" stroke="#c8c8c8" stroke-width="1" stroke-linejoin="round" stroke-linecap="square"/>
<polyline points="548.5,526.5 557.5,526.5" fill="none" stroke="#c8c8c8" stroke-width="1" stroke-linejoin="round" stroke-linecap="square"/>
<polyline points="547.5,552.5 557.5,552.5" fill="none" stroke="#c8c8c8" stroke-width="1" stroke-linejoin="round" stroke-linecap="square"/>
<polyline points="547.5,579.5 557.5,579.5" fill="none" stroke="#c8c8c8" stroke-width="1" stroke-linejoin="round" stroke-linecap="square"/>
<polyline points="132.5,603.5 132.5,650.5" fill="none" stroke="#c8c8c8" stroke-width="1" stroke-linejoin="round" stroke-linecap="square"/>
<polyline points="132.5,626.5 111.5,626.5 92.5,627.5 92.5,639.5 81.5,639.5 81.5,644.5" fill="none" stroke="#c8c8c8" stroke-width="1" stroke-linejoin="round" stroke-linecap="square"/>
<polyline points="239.5,603.5 240.5,605.5 240.5,619.5 256.5,619.5 257.5,622.5 258.5,623.5" fill="none" stroke="#c8c8c8" stroke-width="1" stroke-linejoin="round" stroke-linecap="square"/>
<polyline points="256.5,603.5 257.5,619.5" fill="none" stroke="#c8c8c8" stroke-width="1" stroke-linejoin="round" stroke-linecap="square"/>
<polyline points="309.5,603.5 309.5,623.5" fill="none" stroke="#c8c8c8" stroke-width="1" stroke-linejoin="round" stroke-linecap="square"/>
<polyline points="360.5,603.5 360.5,610.5" fill="none" stroke="#c8c8c8" stroke-width="1" stroke-linejoin="round" stroke-linecap="square"/>
<polyline points="381.5,610.5 382.5,642.5 383.5,643.5 383.5,645.5 382.5,647.5" fill="none" stroke="#c8c8c8" stroke-width="1" stroke-linejoin="round" stroke-linecap="square"/>
<polyline points="446.5,603.5 446.5,610.5" fill="none" stroke="#c8c8c8" stroke-width="1" stroke-linejoin="round" stroke-linecap="square"/>
<polyline points="509.5,603.5 509.5,610.5" fill="none" stroke="#c8c8c8" stroke-width="1" stroke-linejoin="round" stroke-linecap="square"/>
<polyline points="547.5,605.5 557.5,605.5" fill="none" stroke="#c8c8c8" stroke-width="1" stroke-linejoin="round" stroke-linecap="square"/>
<polyline points="442.5,610.5 442.5,690.5 439.5,693.5" fill="none" stroke="#c8c8c8" stroke-width="1" stroke-linejoin="round" stroke-linecap="square"/>
<polyline points="492.5,610.5 488.5,664.5" fill="none" stroke="#c8c8c8" stroke-width="1" stroke-linejoin="round" stroke-linecap="square"/>
<polyline points="494.5,610.5 498.5,614.5 502.5,618.5 504.5,623.5 510.5,626.5 515.5,631.5 520.5,632.5 521.5,637.5 522.5,642.5 524.5,645.5 531.5,646.5 538.5,647.5 544.5,648.5 548.5,649.5 554.5,650.5 557.5,652.5" fill="none" stroke="#c8c8c8" stroke-width="1" stroke-linejoin="round" stroke-linecap="square"/>
<polyline points="531.5,610.5 531.5,631.5" fill="none" stroke="#c8c8c8" stroke-width="1" stroke-linejoin="round" stroke-linecap="square"/>
<polyline points="515.5,631.5 557.5,631.5" fill="none" stroke="#c8c8c8" stroke-width="1" stroke-linejoin="round" stroke-linecap="square"/>
<polyline points="442.5,690.5 488.5,664.5 517.5,685.5 524.5,691.5 549.5,708.5" fill="none" stroke="#c8c8c8" stroke-width="1" stroke-linejoin="round" stroke-linecap="square"/>
<polyline points="548.5,649.5 517.5,685.5" fill="none" stroke="#c8c8c8" stroke-width="1" stroke-linejoin="round" stroke-linecap="square"/>
<polyline points="441.5,693.5 494.5,705.5 504.5,706.5 524.5,691.5" fill="none" stroke="#c8c8c8" stroke-width="1" stroke-linejoin="round" stroke-linecap="square"/>
<polyline points="73.8,642.3 97.8,650.9 195.0,650.6" fill="none" stroke="#ff4848" stroke-width="1" stroke-linejoin="round" stroke-linecap="square"/>
<polyline points="195.0,650.6 258.3,650.6 258.3,623.3 317.0,623.3" fill="none" stroke="#ff4848" stroke-width="1" stroke-linejoin="round" stroke-linecap="square"/>
<polyline points="351.7,623.7 360.3,627.0 369.6,642.3 382.3,647.3 395.5,661.2 403.8,665.5 407.1,671.1 413.7,675.7 416.2,679.9 421.5,682.3 424.8,682.3 431.1,687.3 435.2,690.3 438.5,690.9 439.0,693.1" fill="none" stroke="#ff4848" stroke-width="1" stroke-linejoin="round" stroke-linecap="square"/>
<polyline points="439.0,693.1 442.3,695.6 444.0,698.9 445.3,705.5 446.4,708.0 448.9,708.8" fill="none" stroke="#ff4848" stroke-width="1" stroke-linejoin="round" stroke-linecap="square"/>
<polyline points="549.5,308.5 549.5,339.5 548.5,339.5 548.5,440 547.5,490 546.5,551 546.5,610.5 346.8,610.5 345.6,611.8 346.4,614.2 345.6,617.2 346.6,619.5 347.6,621.9 349,622.7 351.7,623.3" fill="none" stroke="#ff0000" stroke-width="1.15" stroke-linejoin="round" stroke-linecap="square"/>
<polyline points="549.5,339.5 557,339.5" fill="none" stroke="#ff0000" stroke-width="1.15" stroke-linejoin="round" stroke-linecap="square"/>
<polyline points="258.3,623.4 348.5,623.4" fill="none" stroke="#ff4848" stroke-width="1" stroke-linejoin="round" stroke-linecap="square"/>
<polyline points="211.5,273 211.5,650.6" fill="none" stroke="#ff0000" stroke-width="1.2" stroke-linejoin="round" stroke-linecap="square"/>
<polyline points="73,308.5 131.7,308.5 132.2,309.5 175,309.5 215,309.0 250,309.0 290,308.5 332.4,308.5 332.9,309.5 470,309.5 530,308.5 557,308.5" fill="none" stroke="#ff0000" stroke-width="1.15" stroke-linejoin="round" stroke-linecap="square"/>
<rect x="229.89" y="454.88" width="1.06" height="1.06" fill="#ff55ff" shape-rendering="auto"/>
<rect x="225.26" y="458.83" width="2.73" height="1.06" fill="#ff55ff" shape-rendering="auto"/>
<rect x="226.78" y="460.12" width="1.21" height="1.97" fill="#0000ff" shape-rendering="auto"/>
<rect x="229.96" y="460.12" width="2.73" height="1.67" fill="#0080ff" shape-rendering="auto"/>
<rect x="228.52" y="461.94" width="1.52" height="1.37" fill="#0000ff" shape-rendering="auto"/>
<rect x="233.0" y="461.94" width="1.67" height="1.37" fill="#0000ff" shape-rendering="auto"/>
<rect x="225.49" y="462.62" width="5.31" height="3.03" fill="#ff55ff" shape-rendering="auto"/>
<rect x="231.1" y="463.15" width="1.67" height="1.67" fill="#408080" shape-rendering="auto"/>
<rect x="233.23" y="463.15" width="1.52" height="1.67" fill="#ff55ff" shape-rendering="auto"/>
<rect x="211.83" y="463.15" width="2.28" height="1.67" fill="#ff55ff" shape-rendering="auto"/>
<rect x="203.79" y="466.11" width="2.43" height="1.67" fill="#0000ff" shape-rendering="auto"/>
<rect x="207.05" y="464.97" width="1.67" height="1.37" fill="#0080ff" shape-rendering="auto"/>
<rect x="207.05" y="466.11" width="1.67" height="1.67" fill="#0000ff" shape-rendering="auto"/>
<rect x="225.11" y="466.11" width="2.28" height="1.67" fill="#0000ff" shape-rendering="auto"/>
<rect x="228.07" y="465.58" width="1.67" height="1.67" fill="#008040" shape-rendering="auto"/>
<rect x="229.74" y="466.11" width="1.37" height="1.67" fill="#00ffff" shape-rendering="auto"/>
<rect x="231.1" y="464.97" width="1.67" height="1.37" fill="#0000ff" shape-rendering="auto"/>
<rect x="231.56" y="466.26" width="1.52" height="1.37" fill="#ff55ff" shape-rendering="auto"/>
<rect x="228.07" y="467.71" width="1.67" height="1.21" fill="#ff8000" shape-rendering="auto"/>
<rect x="233.0" y="467.86" width="1.67" height="1.37" fill="#0000ff" shape-rendering="auto"/>
<rect x="223.14" y="468.69" width="1.67" height="3.03" fill="#ff55ff" shape-rendering="auto"/>
<rect x="226.7" y="469.22" width="1.37" height="1.97" fill="#0000ff" shape-rendering="auto"/>
<rect x="228.07" y="469.3" width="1.67" height="1.82" fill="#008040" shape-rendering="auto"/>
<rect x="229.74" y="469.3" width="1.67" height="1.82" fill="#ffff00" shape-rendering="auto"/>
<rect x="231.33" y="469.3" width="1.67" height="1.82" fill="#ff8000" shape-rendering="auto"/>
<rect x="233.0" y="469.3" width="1.67" height="1.82" fill="#ff0000" shape-rendering="auto"/>
<rect x="234.82" y="469.37" width="1.06" height="1.67" fill="#0000ff" shape-rendering="auto"/>
<rect x="224.96" y="471.04" width="1.82" height="1.06" fill="#00ffff" shape-rendering="auto"/>
<rect x="200.83" y="468.84" width="1.06" height="1.97" fill="#ff55ff" shape-rendering="auto"/>
<rect x="196.58" y="470.82" width="2.12" height="1.06" fill="#ff55ff" shape-rendering="auto"/>
<rect x="209.02" y="469.15" width="1.06" height="2.12" fill="#ff55ff" shape-rendering="auto"/>
<rect x="209.71" y="471.04" width="2.28" height="1.06" fill="#0000ff" shape-rendering="auto"/>
<rect x="199.08" y="472.03" width="1.67" height="1.67" fill="#ff55ff" shape-rendering="auto"/>
<rect x="202.04" y="470.97" width="1.82" height="3.79" fill="#ff55ff" shape-rendering="auto"/>
<rect x="195.97" y="474.84" width="1.06" height="1.06" fill="#ff55ff" shape-rendering="auto"/>
<rect x="226.78" y="471.88" width="1.21" height="2.73" fill="#0000ff" shape-rendering="auto"/>
<rect x="228.07" y="471.8" width="1.67" height="1.37" fill="#ffff00" shape-rendering="auto"/>
<rect x="228.07" y="473.32" width="1.67" height="1.37" fill="#00ff00" shape-rendering="auto"/>
<rect x="229.74" y="471.95" width="1.67" height="1.82" fill="#0080ff" shape-rendering="auto"/>
<rect x="229.81" y="473.62" width="1.52" height="1.06" fill="#ffff00" shape-rendering="auto"/>
<rect x="231.33" y="471.95" width="1.67" height="1.82" fill="#00ff00" shape-rendering="auto"/>
<rect x="233.0" y="471.95" width="1.67" height="1.82" fill="#0080ff" shape-rendering="auto"/>
<rect x="234.82" y="472.03" width="1.06" height="1.67" fill="#ff55ff" shape-rendering="auto"/>
<rect x="231.1" y="474.61" width="1.67" height="1.06" fill="#ff55ff" shape-rendering="auto"/>
<rect x="215.17" y="477.95" width="1.67" height="2.73" fill="#ff55ff" shape-rendering="auto"/>
<rect x="235.97" y="480.94" width="2.05" height="1.06" fill="#ff55ff" shape-rendering="auto"/>
<rect x="239.87" y="480.9" width="1.14" height="1.14" fill="#0000ff" shape-rendering="auto"/>
<rect x="241.01" y="480.75" width="3.19" height="1.06" fill="#00ffff" shape-rendering="auto"/>
<rect x="244.24" y="480.94" width="1.67" height="1.06" fill="#ff55ff" shape-rendering="auto"/>
<rect x="239.91" y="482.16" width="1.06" height="1.52" fill="#00ffff" shape-rendering="auto"/>
<rect x="241.2" y="482.27" width="1.67" height="1.67" fill="#ff8000" shape-rendering="auto"/>
<rect x="243.02" y="482.27" width="1.06" height="1.67" fill="#ffff00" shape-rendering="auto"/>
<rect x="237.86" y="483.9" width="1.9" height="1.06" fill="#ff55ff" shape-rendering="auto"/>
<rect x="239.87" y="483.9" width="1.14" height="1.06" fill="#0000ff" shape-rendering="auto"/>
<rect x="334.60" y="417.50" width="5.8" height="5.8" fill="none" stroke="#7dff20" stroke-width="1.1" stroke-linejoin="round" shape-rendering="auto"/>
<rect x="353.60" y="430.50" width="5.8" height="5.8" fill="none" stroke="#7dff20" stroke-width="1.1" stroke-linejoin="round" shape-rendering="auto"/>
<rect x="379.60" y="428.60" width="5.8" height="5.8" fill="none" stroke="#7dff20" stroke-width="1.1" stroke-linejoin="round" shape-rendering="auto"/>
<rect x="332.70" y="448.60" width="5.8" height="5.8" fill="none" stroke="#7dff20" stroke-width="1.1" stroke-linejoin="round" shape-rendering="auto"/>
<rect x="318.60" y="475.60" width="5.8" height="5.8" fill="none" stroke="#7dff20" stroke-width="1.1" stroke-linejoin="round" shape-rendering="auto"/>
<rect x="318.60" y="481.70" width="5.8" height="5.8" fill="none" stroke="#7dff20" stroke-width="1.1" stroke-linejoin="round" shape-rendering="auto"/>
<rect x="306.60" y="481.70" width="5.8" height="5.8" fill="none" stroke="#7dff20" stroke-width="1.1" stroke-linejoin="round" shape-rendering="auto"/>
<rect x="301.70" y="486.60" width="5.8" height="5.8" fill="none" stroke="#7dff20" stroke-width="1.1" stroke-linejoin="round" shape-rendering="auto"/>
<rect x="304.60" y="489.50" width="5.8" height="5.8" fill="none" stroke="#7dff20" stroke-width="1.1" stroke-linejoin="round" shape-rendering="auto"/>
<rect x="308.30" y="486.70" width="5.8" height="5.8" fill="none" stroke="#7dff20" stroke-width="1.1" stroke-linejoin="round" shape-rendering="auto"/>
<rect x="313.10" y="488.10" width="5.8" height="5.8" fill="none" stroke="#7dff20" stroke-width="1.1" stroke-linejoin="round" shape-rendering="auto"/>
<rect x="320.50" y="487.60" width="5.8" height="5.8" fill="none" stroke="#7dff20" stroke-width="1.1" stroke-linejoin="round" shape-rendering="auto"/>
<rect x="329.50" y="486.50" width="5.8" height="5.8" fill="none" stroke="#7dff20" stroke-width="1.1" stroke-linejoin="round" shape-rendering="auto"/>
<rect x="318.60" y="494.50" width="5.8" height="5.8" fill="none" stroke="#7dff20" stroke-width="1.1" stroke-linejoin="round" shape-rendering="auto"/>
<rect x="321.70" y="501.50" width="5.8" height="5.8" fill="none" stroke="#7dff20" stroke-width="1.1" stroke-linejoin="round" shape-rendering="auto"/>
<rect x="316.60" y="509.60" width="5.8" height="5.8" fill="none" stroke="#7dff20" stroke-width="1.1" stroke-linejoin="round" shape-rendering="auto"/>
</g>
<rect x="73" y="273" width="485" height="1" fill="#000"/>
<rect x="73" y="709" width="485" height="1" fill="#000"/>
<rect x="73" y="273" width="1" height="437" fill="#000"/>
<rect x="557" y="273" width="1" height="437" fill="#000"/>
<rect x="102" y="704" width="1" height="5" fill="#000"/>
<rect x="158" y="704" width="1" height="5" fill="#000"/>
<rect x="214" y="704" width="1" height="5" fill="#000"/>
<rect x="270" y="704" width="1" height="5" fill="#000"/>
<rect x="326" y="704" width="1" height="5" fill="#000"/>
<rect x="382" y="704" width="1" height="5" fill="#000"/>
<rect x="438" y="704" width="1" height="5" fill="#000"/>
<rect x="494" y="704" width="1" height="5" fill="#000"/>
<rect x="550" y="704" width="1" height="5" fill="#000"/>
<rect x="74" y="671" width="5" height="1" fill="#000"/>
<rect x="74" y="611" width="5" height="1" fill="#000"/>
<rect x="74" y="550" width="5" height="1" fill="#000"/>
<rect x="74" y="490" width="5" height="1" fill="#000"/>
<rect x="74" y="430" width="5" height="1" fill="#000"/>
<rect x="74" y="369" width="5" height="1" fill="#000"/>
<rect x="74" y="309" width="5" height="1" fill="#000"/>
<rect x="640" y="274" width="2" height="435" fill="#000" fill-opacity="0.065"/>
<rect x="596" y="326" width="92" height="2" fill="#000" fill-opacity="0.065"/>
<rect x="596" y="381" width="92" height="2" fill="#000" fill-opacity="0.065"/>
<rect x="596" y="435" width="92" height="2" fill="#000" fill-opacity="0.065"/>
<rect x="596" y="490" width="92" height="2" fill="#000" fill-opacity="0.065"/>
<rect x="596" y="544" width="92" height="2" fill="#000" fill-opacity="0.065"/>
<rect x="596" y="599" width="92" height="2" fill="#000" fill-opacity="0.065"/>
<rect x="596" y="653" width="92" height="2" fill="#000" fill-opacity="0.065"/>
<rect x="634" y="453" width="1" height="2" fill="#ff55ff"/>
<rect x="638" y="458" width="1" height="1" fill="#ff55ff"/>
<rect x="619" y="460" width="1" height="2" fill="#ff55ff"/>
<rect x="609" y="463" width="1" height="2" fill="#ff55ff"/>
<rect x="605" y="466" width="1" height="2" fill="#ff55ff"/>
<rect x="607" y="469" width="1" height="2" fill="#ff55ff"/>
<rect x="621" y="465" width="1" height="1" fill="#ff55ff"/>
<rect x="629" y="462" width="1" height="1" fill="#ff55ff"/>
<rect x="624" y="469" width="1" height="2" fill="#ff55ff"/>
<rect x="624" y="472" width="1" height="2" fill="#ff55ff"/>
<rect x="628" y="472" width="1" height="2" fill="#ff55ff"/>
<rect x="629" y="469" width="1" height="2" fill="#ff55ff"/>
<rect x="630" y="468" width="1" height="1" fill="#ff55ff"/>
<rect x="632" y="472" width="1" height="3" fill="#ff55ff"/>
<rect x="632" y="462" width="2" height="2" fill="#ff55ff"/>
<rect x="634" y="460" width="2" height="2" fill="#ff55ff"/>
<rect x="637" y="460" width="3" height="2" fill="#ff55ff"/>
<rect x="641" y="460" width="1" height="2" fill="#ff55ff"/>
<rect x="644" y="460" width="1" height="2" fill="#ff55ff"/>
<rect x="641" y="462" width="1" height="1" fill="#0000ff"/>
<rect x="638" y="463" width="1" height="2" fill="#00ffff"/>
<rect x="642" y="463" width="1" height="2" fill="#ff55ff"/>
<rect x="635" y="465" width="1" height="1" fill="#00ffff"/>
<rect x="633" y="466" width="1" height="2" fill="#0000ff"/>
<rect x="636" y="466" width="1" height="2" fill="#0000ff"/>
<rect x="637" y="466" width="1" height="1" fill="#ff55ff"/>
<rect x="640" y="465" width="6" height="3" fill="#ff55ff"/>
<rect x="635" y="468" width="1" height="1" fill="#0000ff"/>
<rect x="632" y="469" width="2" height="2" fill="#0000ff"/>
<rect x="636" y="469" width="1" height="2" fill="#0000ff"/>
<rect x="637" y="469" width="1" height="2" fill="#00ffff"/>
<rect x="639" y="469" width="1" height="2" fill="#008040"/>
<rect x="641" y="469" width="1" height="2" fill="#00ffff"/>
<rect x="642" y="469" width="1" height="2" fill="#0000ff"/>
<rect x="644" y="469" width="1" height="2" fill="#00ff00"/>
<rect x="635" y="471" width="1" height="1" fill="#ff55ff"/>
<rect x="642" y="471" width="1" height="1" fill="#ff55ff"/>
<rect x="637" y="472" width="3" height="2" fill="#0000ff"/>
<rect x="637" y="474" width="2" height="1" fill="#ff55ff"/>
<rect x="641" y="472" width="1" height="2" fill="#ff55ff"/>
<rect x="643" y="472" width="1" height="2" fill="#ff55ff"/>
<rect x="618" y="481" width="1" height="1" fill="#ff55ff"/>
<rect x="627" y="481" width="1" height="1" fill="#0000ff"/>
<rect x="627" y="482" width="1" height="2" fill="#ff55ff"/>
<rect x="629" y="481" width="1" height="1" fill="#ff55ff"/>
<rect x="631" y="481" width="1" height="1" fill="#ff55ff"/>
<rect x="634" y="481" width="1" height="1" fill="#0000ff"/>
<rect x="633" y="481" width="1" height="1" fill="#ff55ff"/>
<rect x="632" y="484" width="1" height="1" fill="#ff55ff"/>
<rect x="635" y="482" width="1" height="2" fill="#ff55ff"/>
<rect x="637" y="482" width="1" height="2" fill="#0000ff"/>
<rect x="639" y="481" width="1" height="2" fill="#0000ff"/>
<rect x="642" y="481" width="1" height="1" fill="#0000ff"/>
<rect x="637" y="484" width="1" height="1" fill="#ff55ff"/>
<rect x="638" y="481" width="1" height="1" fill="#0000ff"/>
<rect x="645" y="459" width="1" height="1" fill="#ff55ff"/>
<rect x="657" y="460" width="1" height="2" fill="#ff55ff"/>
<rect x="646" y="462" width="1" height="2" fill="#ff55ff"/>
<rect x="654" y="463" width="1" height="2" fill="#ff55ff"/>
<rect x="659" y="463" width="1" height="2" fill="#ff55ff"/>
<rect x="663" y="463" width="1" height="2" fill="#ff55ff"/>
<rect x="646" y="466" width="2" height="2" fill="#0080ff"/>
<rect x="649" y="466" width="1" height="2" fill="#0000ff"/>
<rect x="650" y="466" width="1" height="1" fill="#ff55ff"/>
<rect x="653" y="466" width="1" height="2" fill="#ff55ff"/>
<rect x="655" y="466" width="1" height="2" fill="#ff55ff"/>
<rect x="663" y="466" width="1" height="2" fill="#ff55ff"/>
<rect x="653" y="468" width="1" height="1" fill="#0000ff"/>
<rect x="656" y="468" width="1" height="1" fill="#ff55ff"/>
<rect x="646" y="469" width="1" height="2" fill="#0000ff"/>
<rect x="647" y="469" width="1" height="2" fill="#0080ff"/>
<rect x="649" y="469" width="1" height="2" fill="#0000ff"/>
<rect x="651" y="469" width="1" height="2" fill="#ff55ff"/>
<rect x="655" y="469" width="1" height="3" fill="#ff55ff"/>
<rect x="657" y="469" width="1" height="2" fill="#0080ff"/>
<rect x="658" y="469" width="1" height="1" fill="#ff55ff"/>
<rect x="663" y="469" width="1" height="2" fill="#ff55ff"/>
<rect x="664" y="469" width="2" height="2" fill="#ff55ff"/>
<rect x="670" y="469" width="1" height="2" fill="#ff55ff"/>
<rect x="673" y="471" width="1" height="1" fill="#ff55ff"/>
<rect x="675" y="472" width="1" height="2" fill="#ff55ff"/>
<rect x="678" y="474" width="1" height="1" fill="#ff55ff"/>
<rect x="645" y="472" width="1" height="2" fill="#ff55ff"/>
<rect x="647" y="472" width="1" height="2" fill="#0000ff"/>
<rect x="649" y="472" width="1" height="2" fill="#0000ff"/>
<rect x="651" y="472" width="1" height="2" fill="#0000ff"/>
<rect x="652" y="472" width="1" height="2" fill="#ff55ff"/>
<rect x="656" y="472" width="1" height="2" fill="#ff55ff"/>
<rect x="660" y="472" width="1" height="2" fill="#0080ff"/>
<rect x="647" y="474" width="1" height="1" fill="#ff55ff"/>
<rect x="649" y="478" width="1" height="1" fill="#ff55ff"/>
<rect x="676" y="478" width="1" height="1" fill="#ff55ff"/>
<rect x="640" y="481" width="1" height="1" fill="#0080ff"/>
<rect x="646" y="481" width="3" height="1" fill="#ff55ff"/>
<rect x="648" y="482" width="1" height="2" fill="#ff55ff"/>
<rect x="650" y="481" width="1" height="1" fill="#ff55ff"/>
<rect x="653" y="482" width="1" height="2" fill="#ff55ff"/>
<rect x="656" y="481" width="1" height="1" fill="#ff55ff"/>
<rect x="660" y="482" width="1" height="2" fill="#ff55ff"/>
<rect x="595" y="273" width="94" height="1" fill="#000"/>
<rect x="595" y="709" width="94" height="1" fill="#000"/>
<rect x="595" y="273" width="1" height="437" fill="#000"/>
<rect x="688" y="273" width="1" height="437" fill="#000"/>
<rect x="596" y="327" width="5" height="1" fill="#000"/>
<rect x="596" y="382" width="5" height="1" fill="#000"/>
<rect x="596" y="436" width="5" height="1" fill="#000"/>
<rect x="596" y="491" width="5" height="1" fill="#000"/>
<rect x="596" y="545" width="5" height="1" fill="#000"/>
<rect x="596" y="600" width="5" height="1" fill="#000"/>
<rect x="596" y="654" width="5" height="1" fill="#000"/>
<rect x="641" y="704" width="1" height="5" fill="#000"/>
<rect x="69" y="763" width="22" height="25" fill="#ff55ff"/>
<rect x="91" y="763" width="24" height="25" fill="#8000ff"/>
<rect x="115" y="763" width="23" height="25" fill="#8000ff"/>
<rect x="138" y="763" width="24" height="25" fill="#0000ff"/>
<rect x="162" y="763" width="23" height="25" fill="#0000ff"/>
<rect x="185" y="763" width="24" height="25" fill="#0080ff"/>
<rect x="209" y="763" width="23" height="25" fill="#00ffff"/>
<rect x="232" y="763" width="24" height="25" fill="#00ff00"/>
<rect x="256" y="763" width="24" height="25" fill="#008040"/>
<rect x="280" y="763" width="23" height="25" fill="#408080"/>
<rect x="303" y="763" width="24" height="25" fill="#ffff00"/>
<rect x="327" y="763" width="23" height="25" fill="#ffc080"/>
<rect x="350" y="763" width="24" height="25" fill="#ff8000"/>
<rect x="374" y="763" width="24" height="25" fill="#ff0080"/>
<rect x="398" y="763" width="23" height="25" fill="#ff0000"/>
<rect x="421" y="763" width="24" height="25" fill="#c00000"/>
<rect x="445" y="763" width="24" height="25" fill="#800000"/>
<rect x="469" y="763" width="23" height="25" fill="#000000"/>
<rect x="492" y="763" width="24" height="25" fill="#808080"/>
<rect x="516" y="763" width="23" height="25" fill="#c0c0c0"/>
<rect x="539" y="763" width="25" height="25" fill="#ffffff"/>
<rect x="68" y="763" width="497" height="1" fill="#000"/>
<rect x="68" y="788" width="497" height="1" fill="#000"/>
<rect x="68" y="763" width="1" height="26" fill="#000"/>
<rect x="564" y="763" width="1" height="26" fill="#000"/>
<rect x="142" y="786" width="1" height="2" fill="#000"/>
<rect x="186" y="786" width="1" height="2" fill="#000"/>
<rect x="217" y="786" width="1" height="2" fill="#000"/>
<rect x="241" y="786" width="1" height="2" fill="#000"/>
<rect x="261" y="786" width="1" height="2" fill="#000"/>
<rect x="277" y="786" width="1" height="2" fill="#000"/>
<rect x="292" y="786" width="1" height="2" fill="#000"/>
<rect x="304" y="786" width="1" height="2" fill="#000"/>
<rect x="390" y="786" width="1" height="2" fill="#000"/>
<rect x="434" y="786" width="1" height="2" fill="#000"/>
<rect x="465" y="786" width="1" height="2" fill="#000"/>
<rect x="489" y="786" width="1" height="2" fill="#000"/>
<rect x="509" y="786" width="1" height="2" fill="#000"/>
<rect x="525" y="786" width="1" height="2" fill="#000"/>
<rect x="540" y="786" width="1" height="2" fill="#000"/>
<rect x="552" y="786" width="1" height="2" fill="#000"/>
<rect x="316" y="783" width="1" height="5" fill="#000"/>
<g opacity="0.999">
<text x="380.5" y="33" font-size="16.67" text-anchor="middle">LL LMA 0400-0500 UTC July 13, 2024</text>
<text x="73" y="141.5" font-size="11.11" text-anchor="middle" letter-spacing="-0.16">04:00:00</text>
<text x="176" y="141.5" font-size="11.11" text-anchor="middle" letter-spacing="-0.16">04:10:00</text>
<text x="278" y="141.5" font-size="11.11" text-anchor="middle" letter-spacing="-0.16">04:20:00</text>
<text x="380" y="141.5" font-size="11.11" text-anchor="middle" letter-spacing="-0.16">04:30:00</text>
<text x="483" y="141.5" font-size="11.11" text-anchor="middle" letter-spacing="-0.16">04:40:00</text>
<text x="585" y="141.5" font-size="11.11" text-anchor="middle" letter-spacing="-0.16">04:50:00</text>
<text x="688" y="141.5" font-size="11.11" text-anchor="middle" letter-spacing="-0.16">05:00:00</text>
<text x="69.5" y="134.4" font-size="11.11" text-anchor="end" letter-spacing="-0.5">0</text>
<text x="68" y="90.4" font-size="11.11" text-anchor="end" letter-spacing="-0.5">10</text>
<text x="68" y="45.4" font-size="11.11" text-anchor="end" letter-spacing="-0.5">20</text>
<text x="46" y="86.0" font-size="11.11" text-anchor="middle" transform="rotate(-90 46 86.0)">Altitude, km</text>
<text x="73.3" y="258.3" font-size="11.11" text-anchor="middle" letter-spacing="-0.16">−400</text>
<text x="134.3" y="258.3" font-size="11.11" text-anchor="middle" letter-spacing="-0.16">−300</text>
<text x="194.3" y="258.3" font-size="11.11" text-anchor="middle" letter-spacing="-0.16">−200</text>
<text x="255.3" y="258.3" font-size="11.11" text-anchor="middle" letter-spacing="-0.16">−100</text>
<text x="315.3" y="258.3" font-size="11.11" text-anchor="middle" letter-spacing="-0.16">0</text>
<text x="376.3" y="258.3" font-size="11.11" text-anchor="middle" letter-spacing="-0.16">100</text>
<text x="436.3" y="258.3" font-size="11.11" text-anchor="middle" letter-spacing="-0.16">200</text>
<text x="497.3" y="258.3" font-size="11.11" text-anchor="middle" letter-spacing="-0.16">300</text>
<text x="557.3" y="258.3" font-size="11.11" text-anchor="middle" letter-spacing="-0.16">400</text>
<text x="68" y="249.4" font-size="11.11" text-anchor="end" letter-spacing="-0.5">0</text>
<text x="68" y="205.4" font-size="11.11" text-anchor="end" letter-spacing="-0.5">10</text>
<text x="68" y="161.4" font-size="11.11" text-anchor="end" letter-spacing="-0.5">20</text>
<text x="46" y="201.5" font-size="11.11" text-anchor="middle" transform="rotate(-90 46 201.5)">Altitude, km</text>
<text x="315.5" y="264" font-size="11.11" text-anchor="middle">East-West, km</text>
<text x="590" y="246.4" font-size="11.11" text-anchor="end" letter-spacing="-0.5">0</text>
<text x="590" y="205.4" font-size="11.11" text-anchor="end" letter-spacing="-0.5">10</text>
<text x="590" y="165.4" font-size="11.11" text-anchor="end" letter-spacing="-0.5">20</text>
<text x="595.3" y="258.3" font-size="11.11" text-anchor="middle" letter-spacing="-0.16">0</text>
<text x="641.3" y="258.3" font-size="11.11" text-anchor="middle" letter-spacing="-0.16">50</text>
<text x="688.3" y="258.3" font-size="11.11" text-anchor="middle" letter-spacing="-0.16">100</text>
<text x="638.5" y="166" font-size="8.3" text-anchor="middle">284 sources</text>
<text x="102.3" y="722.3" font-size="11.11" text-anchor="middle" letter-spacing="-0.16">−111</text>
<text x="158.3" y="722.3" font-size="11.11" text-anchor="middle" letter-spacing="-0.16">−110</text>
<text x="214.3" y="722.3" font-size="11.11" text-anchor="middle" letter-spacing="-0.16">−109</text>
<text x="270.3" y="722.3" font-size="11.11" text-anchor="middle" letter-spacing="-0.16">−108</text>
<text x="326.3" y="722.3" font-size="11.11" text-anchor="middle" letter-spacing="-0.16">−107</text>
<text x="382.3" y="722.3" font-size="11.11" text-anchor="middle" letter-spacing="-0.16">−106</text>
<text x="438.3" y="722.3" font-size="11.11" text-anchor="middle" letter-spacing="-0.16">−105</text>
<text x="494.3" y="722.3" font-size="11.11" text-anchor="middle" letter-spacing="-0.16">−104</text>
<text x="550.3" y="722.3" font-size="11.11" text-anchor="middle" letter-spacing="-0.16">−103</text>
<text x="68" y="675.4" font-size="11.11" text-anchor="end" letter-spacing="-0.5">31</text>
<text x="68" y="615.4" font-size="11.11" text-anchor="end" letter-spacing="-0.5">32</text>
<text x="68" y="554.4" font-size="11.11" text-anchor="end" letter-spacing="-0.5">33</text>
<text x="68" y="494.4" font-size="11.11" text-anchor="end" letter-spacing="-0.5">34</text>
<text x="68" y="434.4" font-size="11.11" text-anchor="end" letter-spacing="-0.5">35</text>
<text x="68" y="373.4" font-size="11.11" text-anchor="end" letter-spacing="-0.5">36</text>
<text x="68" y="313.4" font-size="11.11" text-anchor="end" letter-spacing="-0.5">37</text>
<text x="47" y="493.5" font-size="11.11" text-anchor="middle" transform="rotate(-90 47 493.5)">Latitude</text>
<text x="315.5" y="741" font-size="11.11" text-anchor="middle">Longitude</text>
<text x="589" y="277.4" font-size="11.11" text-anchor="end" letter-spacing="-0.16">400</text>
<text x="589" y="331.4" font-size="11.11" text-anchor="end" letter-spacing="-0.16">300</text>
<text x="589" y="386.4" font-size="11.11" text-anchor="end" letter-spacing="-0.16">200</text>
<text x="589" y="440.4" font-size="11.11" text-anchor="end" letter-spacing="-0.16">100</text>
<text x="589" y="495.4" font-size="11.11" text-anchor="end" letter-spacing="-0.16">0</text>
<text x="589" y="549.4" font-size="11.11" text-anchor="end" letter-spacing="-0.16">−100</text>
<text x="589" y="604.4" font-size="11.11" text-anchor="end" letter-spacing="-0.16">−200</text>
<text x="589" y="658.4" font-size="11.11" text-anchor="end" letter-spacing="-0.16">−300</text>
<text x="589" y="713.4" font-size="11.11" text-anchor="end" letter-spacing="-0.16">−400</text>
<text x="595.3" y="722.3" font-size="11.11" text-anchor="middle" letter-spacing="-0.16">0</text>
<text x="641.3" y="722.3" font-size="11.11" text-anchor="middle" letter-spacing="-0.16">10</text>
<text x="688.3" y="722.3" font-size="11.11" text-anchor="middle" letter-spacing="-0.16">20</text>
<text x="640.9" y="741" font-size="11.11" text-anchor="middle">Altitude, km</text>
<text x="700" y="492.0" font-size="11.11" text-anchor="middle" transform="rotate(-90 700 492.0)">North-South, km</text>
<text x="67.4" y="801.4" font-size="11.11" text-anchor="middle" letter-spacing="-0.16">1</text>
<text x="315.4" y="801.4" font-size="11.11" text-anchor="middle" letter-spacing="-0.16">10</text>
<text x="563.4" y="801.4" font-size="11.11" text-anchor="middle" letter-spacing="-0.16">100</text>
<text x="583.5" y="784" font-size="16" text-anchor="start">Sources/7 km<tspan font-size="11.2" dy="-5.5">2</tspan></text>
</g>
</svg>
</body>
</html>
